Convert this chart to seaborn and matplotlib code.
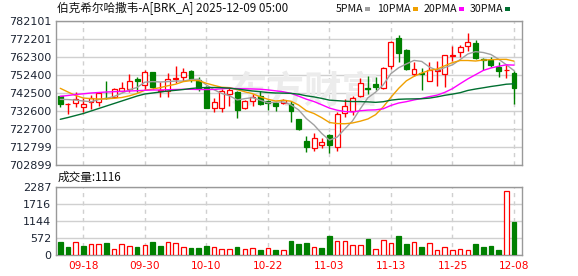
import numpy as np
import pandas as pd
import matplotlib
matplotlib.use("Agg")
import matplotlib.pyplot as plt
import seaborn as sns
from matplotlib.patches import Rectangle

sns.set_theme(style="white")
plt.rcParams['font.family'] = ['Noto Sans CJK SC', 'DejaVu Sans']

# ---------------- data ----------------
dates = ["09-15", "09-16", "09-17", "09-18", "09-19", "09-22", "09-23", "09-24", "09-25", "09-26",
         "09-29", "09-30", "10-01", "10-02", "10-03", "10-06", "10-07", "10-08", "10-09", "10-10",
         "10-13", "10-14", "10-15", "10-16", "10-17", "10-20", "10-21", "10-22", "10-23", "10-24",
         "10-27", "10-28", "10-29", "10-30", "10-31", "11-03", "11-04", "11-05", "11-06", "11-07",
         "11-10", "11-11", "11-12", "11-13", "11-14", "11-17", "11-18", "11-19", "11-20", "11-21",
         "11-24", "11-25", "11-26", "11-28", "12-01", "12-02", "12-03", "12-04", "12-05", "12-08"]

opens = [740849, 736300, 737091, 734964, 737824, 737604, 740024, 740299, 743764, 744974,
         750474, 746899, 754049, 743600, 743599, 749974, 751074, 754764, 749649, 745084,
         734084, 734524, 741784, 742884, 734084, 738099, 740849, 738074, 736999, 737274,
         736559, 728034, 716099, 712084, 714174, 719399, 712964, 731399, 732599, 740849,
         745249, 747284, 745249, 757349, 772639, 766149, 753224, 753499, 749319, 754874,
         752949, 763014, 764829, 768349, 769889, 761199, 760474, 757074, 755149, 753609]
highs = [741124, 737274, 743324, 739749, 741399, 743049, 749099, 745249, 748384, 752834,
         751189, 755424, 754324, 748800, 753499, 757349, 756124, 755149, 751574, 746184,
         739584, 744699, 745084, 743599, 738814, 741784, 743434, 738449, 737824, 739474,
         738099, 728199, 718849, 720774, 717584, 719949, 732214, 739299, 740849, 750584,
         751684, 751299, 756634, 771374, 774399, 766534, 759549, 756084, 759824, 759934,
         763399, 768349, 768899, 775669, 771649, 762024, 762299, 759549, 758724, 754599]
lows = [734634, 731224, 734964, 732049, 733534, 735514, 739364, 739584, 743049, 743214,
        743049, 744424, 744974, 740100, 740299, 748274, 749099, 748714, 743599, 734084,
        732214, 732214, 735349, 728749, 733534, 735514, 735899, 733424, 732874, 736449,
        726714, 722424, 710214, 710764, 712524, 709499, 710764, 729134, 730399, 740134,
        742114, 744424, 744534, 755534, 759714, 755149, 751624, 744149, 749099, 746184,
        745799, 760099, 762299, 765764, 761024, 755149, 756949, 751524, 750859, 736724]
closes = [736449, 736400, 739291, 736284, 740024, 742499, 739639, 744534, 745084, 749374,
          749264, 754049, 746074, 744000, 750474, 750800, 753934, 750199, 745084, 734414,
          737824, 743599, 744149, 733369, 738099, 740574, 736600, 736800, 735349, 738649,
          732599, 722534, 712964, 717749, 715384, 714174, 730784, 735624, 739749, 748274,
          744974, 746074, 756084, 770384, 764389, 755500, 755800, 753224, 755039, 755149,
          763234, 763400, 767579, 770439, 761574, 760874, 757899, 754599, 755314, 745359]
volumes = [422, 255, 422, 289, 377, 355, 389, 211, 355, 311,
           255, 322, 422, 289, 444, 389, 255, 222, 222, 289,
           278, 211, 211, 255, 211, 244, 155, 244, 155, 178,
           455, 355, 389, 278, 222, 655, 477, 477, 344, 344,
           522, 211, 511, 411, 655, 355, 444, 255, 411, 178,
           278, 178, 211, 178, 355, 255, 289, 155, 2150, 1116]

ma5 = [739000, 738900, 738600, 738100, 737690, 738900, 739547, 740596, 742356, 744226,
       745579, 748461, 748769, 748552, 748772, 749079, 749056, 749881, 750098, 746886,
       744291, 742224, 741014, 738671, 739408, 739958, 738558, 737088, 737484, 737594,
       735999, 733186, 728419, 724899, 720246, 716561, 718211, 722743, 727143, 733721,
       739881, 742939, 747031, 753158, 756381, 758486, 760431, 759859, 756790, 754942,
       756489, 758009, 760880, 763960, 765245, 764773, 763673, 761077, 758052, 754809]
ma10 = [745084, 743049, 741124, 739749, 739364, 739199, 739309, 739584, 740024, 740958,
        742240, 744004, 744683, 745454, 746499, 747329, 748759, 749325, 749325, 747829,
        746685, 745640, 745448, 744385, 743147, 742125, 740391, 739051, 738078, 738501,
        737979, 735872, 732754, 731192, 728920, 726280, 725699, 725581, 726021, 726984,
        728221, 730575, 734887, 740151, 745051, 749184, 751685, 753445, 754974, 755662,
        757488, 759220, 760370, 760375, 760094, 760631, 760841, 760979, 761006, 760027]
ma20 = [740684, 741124, 741674, 742059, 742499, 742774, 743049, 743214, 743434, 743599,
        743764, 743984, 744149, 744149, 744314, 744424, 744534, 744534, 744424, 744394,
        744463, 744822, 745066, 744920, 744823, 744727, 744575, 744188, 743702, 743165,
        742332, 740756, 739101, 737789, 736034, 734203, 733045, 732316, 732050, 732743,
        733100, 733224, 733821, 735672, 736986, 737732, 738692, 739513, 740498, 741323,
        742855, 744898, 747629, 750263, 752573, 754908, 756263, 757212, 757990, 757845]
ma30 = [728034, 729024, 730124, 731224, 732599, 733974, 735349, 736724, 738099, 739474,
        740849, 741949, 742499, 743049, 743599, 743984, 744424, 744974, 745359, 745524,
        745524, 745414, 745139, 744699, 744149, 743599, 743214, 742774, 742499, 742429,
        742301, 741839, 740962, 740344, 739522, 738578, 738283, 737986, 737808, 737771,
        737628, 737362, 737696, 738576, 739039, 739196, 739258, 739359, 739691, 740382,
        741229, 741889, 742670, 743906, 744688, 745365, 746075, 746668, 747334, 747558]

price_ticks = [702899, 712799, 722700, 732600, 742500, 752400, 762300, 772201, 782101]
volume_ticks = [0, 572, 1144, 1716, 2287]
date_tick_labels = ["09-18", "09-30", "10-10", "10-22", "11-03", "11-13", "11-25", "12-08"]
title = "伯克希尔哈撒韦-A[BRK_A] 2025-12-09 05:00"
ma_names = ["5PMA", "10PMA", "20PMA", "30PMA"]
last_volume_label = "成交量:1116"

# ---------------- styling ----------------
RED = "#ff0000"
GREEN = "#008000"
ma_colors = ["#a0a0a0", "#f0a000", "#ff00ff", "#006f30"]
GRID = "#d0d0d0"
FRAME = "#999999"
LABEL = "#1c2433"

W, H = 578, 276
fig = plt.figure(figsize=(W / 100, H / 100), dpi=100)
fig.patch.set_facecolor("white")


def rect(l, t, r, b):
    return [l / W, 1 - b / H, (r - l) / W, (b - t) / H]


axp = fig.add_axes(rect(55.5, 21, 522, 165))
axv = fig.add_axes(rect(55.5, 187, 522, 255))

n = len(dates)
xs = np.arange(n)
o = np.array(opens, float)
h = np.array(highs, float)
lo = np.array(lows, float)
c = np.array(closes, float)
up = c >= o
cols = np.where(up, RED, GREEN)
xlim = (-0.62, n - 1 + 1.04)
tick_pos = [dates.index(d) for d in date_tick_labels]

# price panel
axp.vlines(xs, lo, h, colors=cols, linewidth=1.0, zorder=3)
body_bottom = np.minimum(o, c)
body_h = np.maximum(np.abs(c - o), 1.0)
axp.bar(xs, body_h, bottom=body_bottom, width=0.64,
        color=np.where(up, "white", GREEN), edgecolor=cols, linewidth=0.9, zorder=4)

ma_df = pd.DataFrame({"x": xs, "MA5": ma5, "MA10": ma10, "MA20": ma20, "MA30": ma30})
for col, colr in zip(["MA5", "MA10", "MA20", "MA30"], ma_colors):
    sns.lineplot(data=ma_df, x="x", y=col, ax=axp, color=colr, linewidth=1.0,
                 legend=False, zorder=5)

axp.set_xlim(*xlim)
axp.set_ylim(price_ticks[0], price_ticks[-1])
axp.set_yticks(price_ticks)
axp.set_yticklabels([str(t) for t in price_ticks], fontsize=8, color=LABEL, family="DejaVu Sans")
axp.set_xticks(tick_pos)
axp.set_xticklabels([])
axp.set_xlabel("")
axp.set_ylabel("")
axp.grid(True, axis="y", color=GRID, linewidth=1.0, linestyle="-")
axp.grid(True, axis="x", color=GRID, linewidth=1.0, linestyle=(0, (3, 3)))
axp.set_axisbelow(True)
axp.tick_params(length=0, pad=3)

axp.text(305 / W, 1 - 92 / H, "东方财富", transform=fig.transFigure, fontsize=27,
         color="#ececec", ha="center", va="center", zorder=1, fontweight="bold")

# volume panel
vol_up = [closes[0] >= opens[0]] + [closes[i] >= closes[i - 1] for i in range(1, n)]
vdf = pd.DataFrame({"d": dates, "v": volumes})
sns.barplot(data=vdf, x="d", y="v", ax=axv, width=0.6, color=GREEN, saturation=1,
            order=dates, zorder=3)
for patch, vu in zip(axv.patches, vol_up):
    if vu:
        patch.set_facecolor("white")
        patch.set_edgecolor(RED)
    else:
        patch.set_facecolor(GREEN)
        patch.set_edgecolor(GREEN)
    patch.set_linewidth(0.9)

axv.set_xlim(*xlim)
axv.set_ylim(volume_ticks[0], volume_ticks[-1])
axv.set_yticks(volume_ticks)
axv.set_yticklabels([str(t) for t in volume_ticks], fontsize=8, color=LABEL, family="DejaVu Sans")
axv.set_xticks(tick_pos)
axv.set_xticklabels(date_tick_labels, fontsize=7.6, color=RED, family="DejaVu Sans")
axv.set_xlabel("")
axv.set_ylabel("")
axv.grid(True, axis="y", color=GRID, linewidth=1.0, linestyle="-")
axv.grid(True, axis="x", color=GRID, linewidth=1.0, linestyle=(0, (3, 3)))
axv.set_axisbelow(True)
axv.tick_params(axis="y", length=0, pad=3)
axv.tick_params(axis="x", length=0, pad=4)

for ax in (axp, axv):
    for s in ax.spines.values():
        s.set_visible(True)
        s.set_color(FRAME)
        s.set_linewidth(1.0)

# header texts
fig.text(57 / W, 1 - 8.5 / H, title, fontsize=8.4, color="#111111", ha="left", va="center")
legend_sq_x = [365, 413, 459, 505]
for name, colr, sx in zip(ma_names, ma_colors, legend_sq_x):
    fig.text((sx - 2) / W, 1 - 9 / H, name, fontsize=7.6, color="#111111",
             ha="right", va="center")
    fig.patches.append(Rectangle((sx / W, 1 - 11 / H), 5 / W, 4 / H, transform=fig.transFigure,
                                 facecolor=colr, edgecolor="none"))
fig.text(58 / W, 1 - 177 / H, last_volume_label, fontsize=8.4, color="#111111",
         ha="left", va="center")

fig.savefig("out.png", dpi=100)
